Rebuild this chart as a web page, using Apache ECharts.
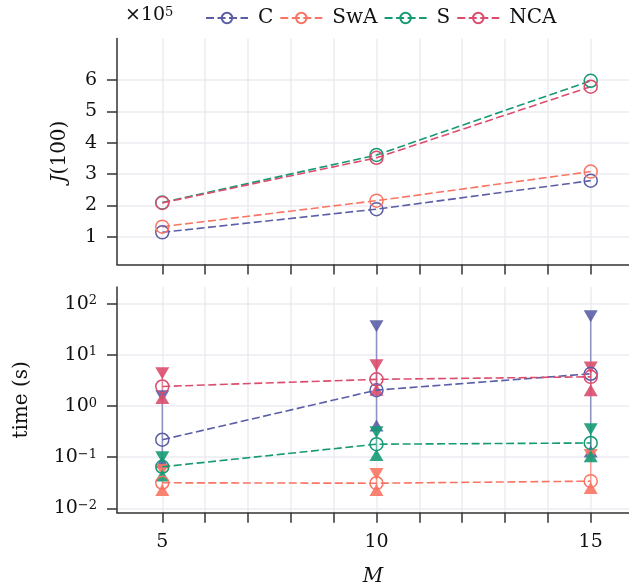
<!DOCTYPE html>
<html>
<head>
<meta charset="utf-8">
<script src="https://cdn.jsdelivr.net/npm/echarts@6/dist/echarts.min.js"></script>
<style>
  html, body { margin: 0; padding: 0; background: #ffffff; }
  #chart { width: 629px; height: 588px; }
</style>
</head>
<body>
<div id="chart"></div>
<script>
// Problem size M on the shared horizontal axis
const M_VALUES = [5, 10, 15];

// Final cost J(100), in units of 1e5
const J_C   = [1.14, 1.88, 2.79];
const J_SWA = [1.32, 2.15, 3.08];
const J_S   = [2.09, 3.61, 5.98];
const J_NCA = [2.08, 3.52, 5.79];

// Run time in seconds: typical value, fastest and slowest run
const T_C       = [0.22, 2.06, 4.3];
const T_C_MIN   = [0.08, 0.42, 0.13];
const T_C_MAX   = [1.57, 36.8, 57.6];
const T_SWA     = [0.0316, 0.031, 0.034];
const T_SWA_MIN = [0.0227, 0.0227, 0.025];
const T_SWA_MAX = [0.056, 0.047, 0.11];
const T_S       = [0.065, 0.18, 0.19];
const T_S_MIN   = [0.044, 0.11, 0.105];
const T_S_MAX   = [0.1, 0.31, 0.355];
const T_NCA     = [2.43, 3.35, 3.75];
const T_NCA_MIN = [1.44, 2.1, 2.06];
const T_NCA_MAX = [4.4, 6.3, 5.7];

// Tick positions
const X_TICKS = [5, 6, 7, 8, 9, 10, 11, 12, 13, 14, 15];
const X_LABELS = [5, 10, 15];
const J_TICKS = [1, 2, 3, 4, 5, 6];
const T_DECADES = [-2, -1, 0, 1, 2];

const METHODS = [
  { name: 'C',   color: '#5b5ea6', j: J_C,   t: T_C,   lo: T_C_MIN,   hi: T_C_MAX },
  { name: 'SwA', color: '#fa7463', j: J_SWA, t: T_SWA, lo: T_SWA_MIN, hi: T_SWA_MAX },
  { name: 'S',   color: '#169a74', j: J_S,   t: T_S,   lo: T_S_MIN,   hi: T_S_MAX },
  { name: 'NCA', color: '#dc4d6d', j: J_NCA, t: T_NCA, lo: T_NCA_MIN, hi: T_NCA_MAX }
];

const FONT = 'DejaVu Serif';
const INK = '#333333';
const GRID_COLOR = '#ebebf2';
const DASH = [8, 3.5];

const pairs = (ys, f) => M_VALUES.map((m, i) => [m, f ? f(ys[i]) : ys[i]]);
const lg = Math.log10;

function xAxis(gridIndex, withLabels) {
  return {
    type: 'value', gridIndex, min: 3.943, max: 15.894,
    axisLine: { show: true, onZero: false, lineStyle: { color: INK, width: 1.5 } },
    axisTick: { show: true, length: 10, lineStyle: { color: INK, width: 1.5 }, customValues: X_TICKS },
    splitLine: { show: true, lineStyle: { color: GRID_COLOR, width: 1.5 } },
    axisLabel: withLabels
      ? { show: true, customValues: X_LABELS, margin: 20, fontFamily: FONT, fontSize: 19, color: '#111' }
      : { show: false },
    name: withLabels ? 'M' : '',
    nameLocation: 'middle', nameGap: 54,
    nameTextStyle: { fontFamily: FONT, fontStyle: 'italic', fontSize: 20, color: '#111' }
  };
}

const supFmt = v => {
  const n = Math.round(v);
  return '10{s|' + (n < 0 ? '\u2212' + (-n) : String(n)) + '}';
};

// Hollow ring marker style
const ring = color => ({ color: 'rgba(255,255,255,0)', borderColor: color, borderWidth: 1.5 });

const series = [];

// Upper panel: cost against M
METHODS.forEach(m => {
  series.push({
    type: 'line', name: m.name, xAxisIndex: 0, yAxisIndex: 0,
    data: pairs(m.j),
    symbol: 'circle', symbolSize: 13,
    color: m.color,
    lineStyle: { color: m.color, width: 1.6, type: DASH },
    itemStyle: ring(m.color),
    z: 3
  });
});

// Lower panel: run-time ranges (vertical bars with triangle caps)
METHODS.forEach(m => {
  series.push({
    type: 'custom', name: m.name, xAxisIndex: 1, yAxisIndex: 1,
    data: M_VALUES.map((x, i) => [x, lg(m.lo[i]), lg(m.hi[i])]),
    encode: { x: 0, y: [1, 2] },
    renderItem: (params, api) => {
      const a = api.coord([api.value(0), api.value(1)]);
      const b = api.coord([api.value(0), api.value(2)]);
      return {
        type: 'line',
        shape: { x1: a[0], y1: a[1], x2: b[0], y2: b[1] },
        style: { stroke: m.color, lineWidth: 1.5, opacity: 0.65 }
      };
    },
    z: 1
  });
  series.push({
    type: 'scatter', name: m.name, xAxisIndex: 1, yAxisIndex: 1,
    data: pairs(m.lo, lg),
    symbol: 'triangle', symbolSize: [14, 12],
    itemStyle: { color: m.color, opacity: 0.9 },
    z: 2
  });
  series.push({
    type: 'scatter', name: m.name, xAxisIndex: 1, yAxisIndex: 1,
    data: pairs(m.hi, lg),
    symbol: 'triangle', symbolSize: [14, 12], symbolRotate: 180,
    itemStyle: { color: m.color, opacity: 0.9 },
    z: 2
  });
});

// Lower panel: typical run time
METHODS.forEach(m => {
  series.push({
    type: 'line', name: m.name, xAxisIndex: 1, yAxisIndex: 1,
    data: pairs(m.t, lg),
    symbol: 'circle', symbolSize: 13,
    color: m.color,
    lineStyle: { color: m.color, width: 1.6, type: DASH },
    itemStyle: ring(m.color),
    z: 3
  });
});

const option = {
  animation: false,
  backgroundColor: '#ffffff',
  grid: [
    { left: 117, right: 0, top: 38.5, height: 226, containLabel: false },
    { left: 117, right: 0, top: 287, height: 225.7, containLabel: false }
  ],
  legend: {
    data: METHODS.map(m => m.name),
    left: 200, top: 3,
    itemWidth: 42, itemHeight: 13, itemGap: 6,
    textStyle: { fontFamily: FONT, fontSize: 20, color: '#111', padding: [0, 0, 0, 5] }
  },
  graphic: [{
    type: 'text', left: 125, top: 6,
    style: {
      text: '\u00d710{s|5}',
      fontFamily: FONT, fontSize: 19, fill: '#111',
      rich: { s: { fontFamily: FONT, fontSize: 13, verticalAlign: 'top', lineHeight: 14, fill: '#111' } }
    }
  }],
  xAxis: [xAxis(0, false), xAxis(1, true)],
  yAxis: [
    {
      type: 'value', gridIndex: 0, min: 0.112, max: 7.33,
      axisLine: { show: true, onZero: false, lineStyle: { color: INK, width: 1.5 } },
      axisTick: { show: true, length: 10, lineStyle: { color: INK, width: 1.5 }, customValues: J_TICKS },
      splitLine: { show: true, lineStyle: { color: GRID_COLOR, width: 1.5 } },
      axisLabel: { customValues: J_TICKS, margin: 20, fontFamily: FONT, fontSize: 19, color: '#111' },
      name: '{i|J}(100)', nameLocation: 'middle', nameGap: 47,
      nameTextStyle: {
        fontFamily: FONT, fontSize: 20, color: '#111',
        rich: { i: { fontFamily: FONT, fontStyle: 'italic', fontSize: 20, color: '#111' } }
      }
    },
    {
      type: 'value', gridIndex: 1, min: -2.086, max: 2.333,
      axisLine: { show: true, onZero: false, lineStyle: { color: INK, width: 1.5 } },
      axisTick: { show: true, length: 10, lineStyle: { color: INK, width: 1.5 }, customValues: T_DECADES },
      splitLine: { show: true, lineStyle: { color: GRID_COLOR, width: 1.5 } },
      axisLabel: {
        customValues: T_DECADES, margin: 20, fontFamily: FONT, fontSize: 19, color: '#111',
        formatter: supFmt,
        rich: { s: { fontFamily: FONT, fontSize: 13, verticalAlign: 'top', lineHeight: 14, color: '#111' } }
      },
      name: 'time (s)', nameLocation: 'middle', nameGap: 85,
      nameTextStyle: { fontFamily: FONT, fontSize: 20, color: '#111' }
    }
  ],
  series
};

const chart = echarts.init(document.getElementById('chart'), null, { renderer: 'canvas' });
chart.setOption(option);
</script>
</body>
</html>
